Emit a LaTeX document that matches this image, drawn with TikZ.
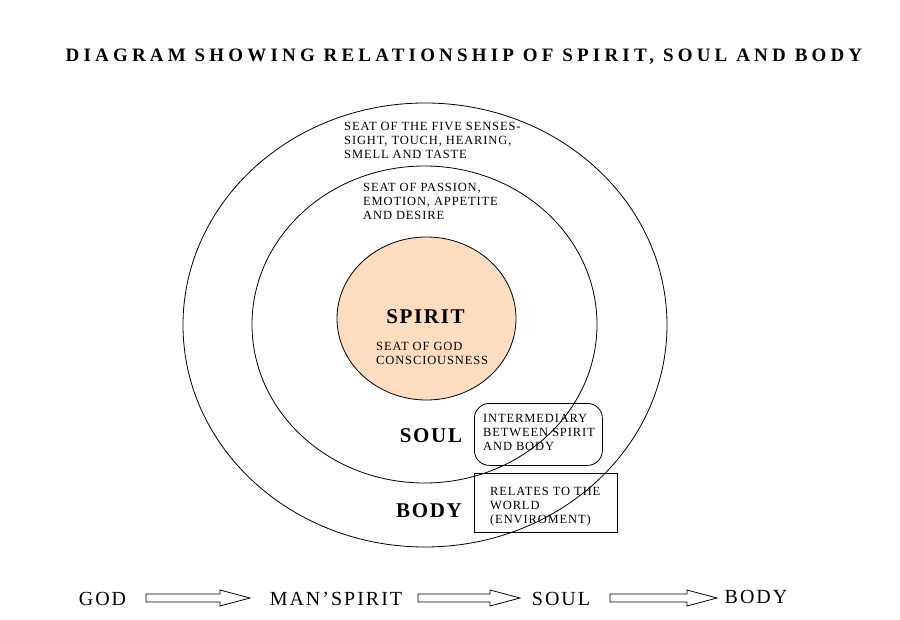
\documentclass[tikz,border=0pt]{standalone}
\usepackage{fontspec}
\setmainfont{Liberation Serif}
\newfontfamily\lsmall[LetterSpace=7]{Liberation Serif}
\newfontfamily\lhead[LetterSpace=8]{Liberation Serif}
\newfontfamily\ltitle[LetterSpace=22]{Liberation Serif}
\newfontfamily\lbottom[LetterSpace=10]{Liberation Serif}
\usetikzlibrary{shapes.geometric,calc}
\definecolor{peach}{RGB}{252,221,192}
\tikzset{
  ring/.style={ellipse, draw=black, line width=0.8pt, inner sep=0pt},
  small/.style={font=\lsmall\fontsize{12.5}{13.6}\selectfont, align=left, anchor=north west, inner sep=0pt},
  head/.style={font=\lhead\bfseries\fontsize{21}{24}\selectfont, inner sep=0pt},
  bottom/.style={font=\lbottom\fontsize{20}{24}\selectfont, inner sep=0pt},
  blk/.style={draw=black, line width=0.8pt, fill=white},
  infobox/.style={draw=black, line width=0.8pt, inner sep=0pt, anchor=north west}
}
\begin{document}
\begin{tikzpicture}[x=1pt,y=-1pt]
\useasboundingbox (0,0) rectangle (900,620);
% title
\node[font=\ltitle\bfseries\fontsize{19}{22}\selectfont, inner sep=0pt] (title) at (464,57) {DIAGRAM SHOWING RELATIONSHIP OF SPIRIT, SOUL AND BODY};
% circles
\node[ring, minimum width=484pt, minimum height=444pt] (outer) at (425,325) {};
\node[ring, minimum width=345pt, minimum height=317pt] (middle) at (424.5,324.5) {};
\node[ring, fill=peach, minimum width=179pt, minimum height=163pt] (spirit) at (426.5,318.5) {};
% texts in rings
\node[small] (senses) at (344,122.5) {SEAT OF THE FIVE SENSES-\\SIGHT, TOUCH, HEARING,\\SMELL AND TASTE};
\node[small] (passion) at (363,183.5) {SEAT OF PASSION,\\EMOTION, APPETITE\\AND DESIRE};
\node[head] (spiritlbl) at (425.5,317) {SPIRIT};
\node[small] (godcons) at (376,342.5) {SEAT OF GOD\\CONSCIOUSNESS};
\node[head] (soullbl) at (431,436) {SOUL};
\node[head] (bodylbl) at (429,511) {BODY};
% boxes
\node[infobox, rounded corners=15pt, minimum width=128pt, minimum height=62pt] (soulbox) at (474,403) {};
\node[small] (soultext) at (483,414.5) {INTERMEDIARY\\BETWEEN SPIRIT\\AND BODY};
\node[infobox, minimum width=143pt, minimum height=59pt] (bodybox) at (474,473) {};
\node[small] (bodytext) at (490,487.5) {RELATES TO THE\\WORLD\\(ENVIROMENT)};
% bottom row
\node[bottom] (god) at (102.5,599) {GOD};
\node[bottom] (manspirit) at (336,599) {MAN’SPIRIT};
\node[bottom] (soul) at (561,599) {SOUL};
\node[bottom] (body) at (756,597) {BODY};
\coordinate (a1s) at (146,598); \coordinate (a1e) at (250,598);
\coordinate (a2s) at (418,598); \coordinate (a2e) at (520,598);
\coordinate (a3s) at (610,598); \coordinate (a3e) at (717,598);
\foreach \s/\e in {a1s/a1e,a2s/a2e,a3s/a3e}{
  \draw[blk] let \p1=(\s), \p2=(\e) in
    (\x1,\y1+4pt) -- (\x2-30pt,\y1+4pt) -- (\x2-30pt,\y1+8pt) -- (\x2,\y2)
    -- (\x2-30pt,\y1-8pt) -- (\x2-30pt,\y1-4pt) -- (\x1,\y1-4pt) -- cycle;
}
\end{tikzpicture}
\end{document}
